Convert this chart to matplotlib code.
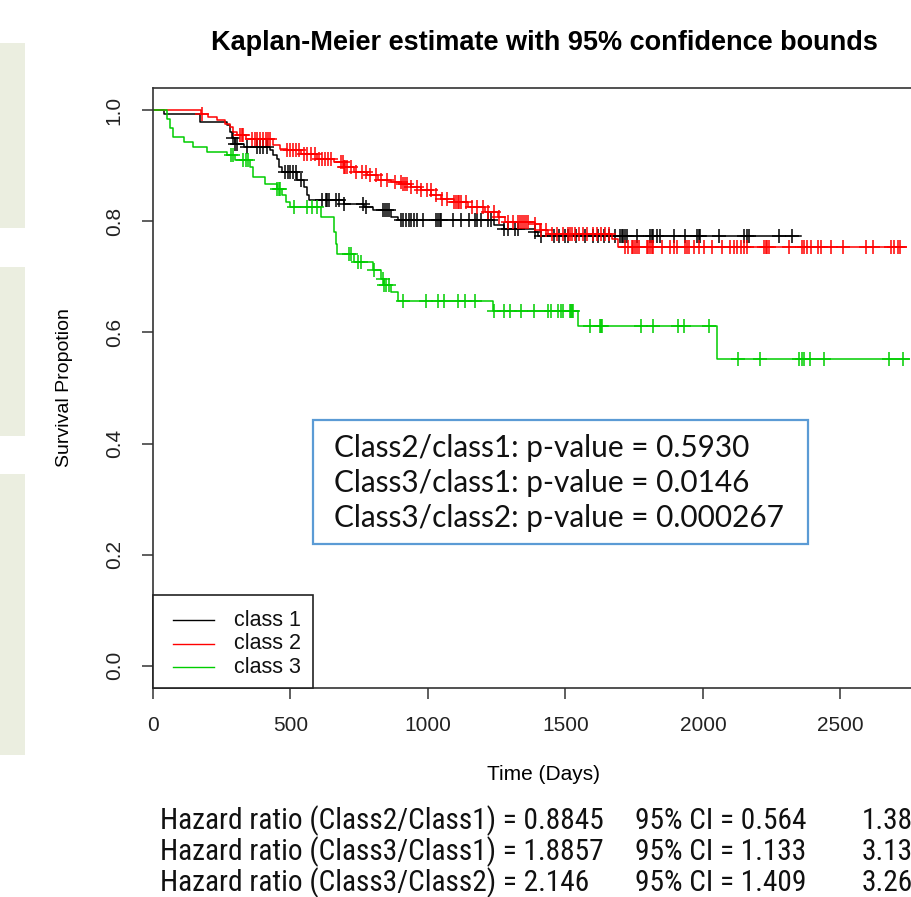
import numpy as np
import matplotlib
matplotlib.use("Agg")
import matplotlib.pyplot as plt
from matplotlib.patches import Rectangle
from matplotlib.lines import Line2D
from matplotlib import font_manager as fm

# ---- data ----
# step curves: times (days) at which survival drops, and survival after each drop
c1_time = [0, 40, 170, 269, 281, 287, 300, 330, 427, 438, 450, 457, 470, 524, 548, 561,
           566, 695, 767, 800, 865, 890, 1241, 1278, 1388, 1400]
c1_surv = [1.0, 0.994, 0.979, 0.973, 0.961, 0.95, 0.94, 0.934, 0.928, 0.919, 0.913, 0.898,
           0.889, 0.874, 0.862, 0.847, 0.838, 0.832, 0.825, 0.82, 0.808, 0.802, 0.793,
           0.787, 0.781, 0.773]
c1_end = 2355
c1_cens = [290, 300, 306, 342, 378, 390, 400, 415, 480, 490, 500, 510, 520, 537, 616, 628,
           634, 640, 664, 677, 695, 762, 774, 835, 845, 852, 859, 901, 910, 920, 930, 940,
           950, 960, 981, 1030, 1036, 1042, 1048, 1090, 1121, 1151, 1170, 1180, 1193, 1219,
           1230, 1278, 1290, 1315, 1328, 1388, 1412, 1460, 1475, 1500, 1510, 1540, 1570,
           1600, 1620, 1640, 1660, 1680, 1699, 1705, 1711, 1717, 1723, 1759, 1808, 1814,
           1820, 1832, 1844, 1893, 1936, 1978, 1984, 1990, 2057, 2149, 2160, 2167, 2277, 2323]

c2_time = [0, 175, 200, 232, 263, 281, 292, 305, 340, 438, 463, 489, 540, 597, 658, 695,
           731, 780, 817, 865, 902, 938, 975, 1011, 1048, 1096, 1145, 1206, 1254, 1279,
           1388, 1406, 1437, 1668, 1690]
c2_surv = [1.0, 0.994, 0.988, 0.982, 0.976, 0.97, 0.961, 0.955, 0.948, 0.937, 0.931, 0.928,
           0.922, 0.913, 0.907, 0.898, 0.889, 0.883, 0.874, 0.871, 0.868, 0.862, 0.856,
           0.847, 0.841, 0.835, 0.826, 0.817, 0.808, 0.799, 0.796, 0.784, 0.778, 0.769, 0.754]
c2_end = 2740
c2_cens = [178, 318, 324, 329, 360, 370, 380, 390, 400, 410, 420, 427, 489, 500, 510, 520,
           530, 548, 560, 575, 590, 605, 615, 625, 635, 646, 685, 690, 695, 700, 705, 720,
           740, 760, 775, 790, 810, 830, 850, 880, 901, 908, 915, 922, 940, 960, 975, 995,
           1010, 1030, 1050, 1070, 1096, 1102, 1108, 1114, 1121, 1140, 1160, 1180, 1200,
           1220, 1240, 1260, 1290, 1310, 1328, 1335, 1342, 1350, 1358, 1365, 1390, 1410,
           1430, 1450, 1470, 1490, 1511, 1518, 1525, 1533, 1550, 1565, 1580, 1600, 1615,
           1630, 1645, 1660, 1717, 1729, 1741, 1747, 1753, 1760, 1766, 1796, 1802, 1808,
           1814, 1820, 1851, 1881, 1893, 1905, 1936, 1942, 1948, 1966, 1985, 2003, 2033,
           2070, 2100, 2112, 2124, 2137, 2149, 2161, 2222, 2228, 2234, 2240, 2313, 2362,
           2368, 2380, 2392, 2417, 2429, 2465, 2508, 2593, 2617, 2684, 2696, 2708, 2715]

c3_time = [0, 50, 62, 73, 111, 146, 196, 270, 300, 354, 365, 409, 451, 470, 482, 500, 610,
           657, 664, 670, 730, 799, 829, 840, 865, 890, 1236, 1546, 2052]
c3_surv = [1.0, 0.985, 0.968, 0.952, 0.943, 0.934, 0.925, 0.919, 0.91, 0.898, 0.88, 0.868,
           0.859, 0.847, 0.835, 0.826, 0.807, 0.78, 0.76, 0.742, 0.726, 0.713, 0.697,
           0.685, 0.672, 0.656, 0.638, 0.611, 0.553]
c3_end = 2751
c3_cens = [285, 292, 329, 340, 347, 451, 457, 463, 511, 560, 580, 597, 712, 719, 744, 756,
           803, 836, 841, 847, 858, 909, 993, 1035, 1057, 1111, 1133, 1172, 1240, 1276,
           1297, 1340, 1386, 1437, 1449, 1473, 1483, 1492, 1516, 1520, 1524, 1528, 1589,
           1625, 1629, 1634, 1775, 1820, 1908, 1930, 2021, 2128, 2209, 2349, 2362, 2368,
           2388, 2441, 2678, 2729]

class_names = ["class 1", "class 2", "class 3"]
class_colors = ["#000000", "#ff0000", "#00cd00"]

pvalue_lines = ["Class2/class1: p-value = 0.5930",
                "Class3/class1: p-value = 0.0146",
                "Class3/class2: p-value = 0.000267"]

hr_text = ["Hazard ratio (Class2/Class1) = 0.8845",
           "Hazard ratio (Class3/Class1) = 1.8857",
           "Hazard ratio (Class3/Class2) = 2.146"]
ci_text = ["95% CI = 0.564", "95% CI = 1.133", "95% CI = 1.409"]
ci_upper = ["1.387", "3.137", "3.269"]


def first_font(cands):
    for c in cands:
        try:
            fm.findfont(fm.FontProperties(family=c), fallback_to_default=False)
            return c
        except ValueError:
            pass
    return "Liberation Sans"


narrow = first_font(["Liberation Sans Narrow", "Arial Narrow", "Roboto Condensed",
                     "Open Sans Condensed", "Liberation Sans"])

W, H = 912, 897
fig = plt.figure(figsize=(W / 100, H / 100), dpi=100)
fig.patch.set_facecolor("white")


def fx(px):
    return px / W


def fy(py):
    return 1 - py / H


# pale side panels on the left edge
for y0, y1 in [(43, 228), (267, 436), (474, 755)]:
    fig.patches.append(Rectangle((0, fy(y1)), fx(25), (y1 - y0) / H,
                                 transform=fig.transFigure, facecolor="#ebeee0",
                                 edgecolor="none"))

ax = fig.add_axes([fx(153), fy(688), 782 / W, 600 / H])
ax.set_xlim(0, 2844)
ax.set_ylim(-0.04, 1.04)

curves = [(c1_time, c1_surv, c1_end, c1_cens),
          (c2_time, c2_surv, c2_end, c2_cens),
          (c3_time, c3_surv, c3_end, c3_cens)]
for (t, s, tend, cens), col in zip(curves, class_colors):
    tt = np.append(t, tend)
    ss = np.append(s, s[-1])
    ax.step(tt, ss, where="post", color=col, lw=1.1)
    idx = np.searchsorted(t, cens, side="right") - 1
    cy = np.array(s)[idx]
    ax.plot(cens, cy, ls="none", marker="+", ms=10, mew=1.1, color=col)

for sp in ax.spines.values():
    sp.set_color("#333333")
    sp.set_linewidth(1.2)

ax.set_xticks([0, 500, 1000, 1500, 2000, 2500])
ax.set_yticks([0.0, 0.2, 0.4, 0.6, 0.8, 1.0])
ax.set_yticklabels(["0.0", "0.2", "0.4", "0.6", "0.8", "1.0"], rotation=90, va="center")
ax.tick_params(axis="both", direction="out", length=8, width=1.1, color="#333333",
               labelsize=15, labelcolor="#222222")
ax.tick_params(axis="x", pad=12)
ax.tick_params(axis="y", pad=13)
for lab in ax.get_xticklabels() + ax.get_yticklabels():
    lab.set_family("Liberation Sans")

ax.set_xlabel("Time (Days)", fontsize=15, family="Liberation Sans", labelpad=22)
ax.set_ylabel("Survival Propotion", fontsize=14, family="Liberation Sans", labelpad=23)
ax.set_title("Kaplan-Meier estimate with 95% confidence bounds", fontsize=19.5,
             fontweight="bold", family="Liberation Sans", pad=27)

# legend box, drawn in pixel positions
fig.patches.append(Rectangle((fx(153), fy(688)), 160 / W, 93 / H,
                             transform=fig.transFigure, facecolor="white",
                             edgecolor="#222222", lw=1.2, zorder=5))
for i, (name, col) in enumerate(zip(class_names, class_colors)):
    yy = fy(620 + 23.5 * i)
    fig.lines.append(Line2D([fx(173), fx(214)], [yy, yy], color=col, lw=1.0,
                            transform=fig.transFigure, zorder=6))
    fig.text(fx(234), yy, name, fontsize=15.5, family="Liberation Sans",
             va="center", ha="left", color="#111111", zorder=6)

# p-value box
fig.patches.append(Rectangle((fx(313), fy(544)), 495 / W, 124 / H,
                             transform=fig.transFigure, facecolor="white",
                             edgecolor="#5b9bd5", lw=1.6, zorder=5))
for i, line in enumerate(pvalue_lines):
    fig.text(fx(334), fy(448 + 35 * i), line, fontsize=21.4, family="Lato",
             va="center", ha="left", color="#111111", zorder=6)

# hazard ratio lines: size the font so the first line spans its width in the picture
probe = fig.text(0, 0, hr_text[0], fontsize=20, family=narrow)
fig.canvas.draw()
hr_size = 20 * 444 / probe.get_window_extent().width
probe.remove()
for i in range(3):
    y = fy(821 + 31 * i)
    kw = dict(fontsize=hr_size, family=narrow, va="center", ha="left", color="#111111")
    fig.text(fx(160), y, hr_text[i], **kw)
    fig.text(fx(635), y, ci_text[i], **kw)
    fig.text(fx(862), y, ci_upper[i], **kw)

fig.savefig("out.png", dpi=100)
